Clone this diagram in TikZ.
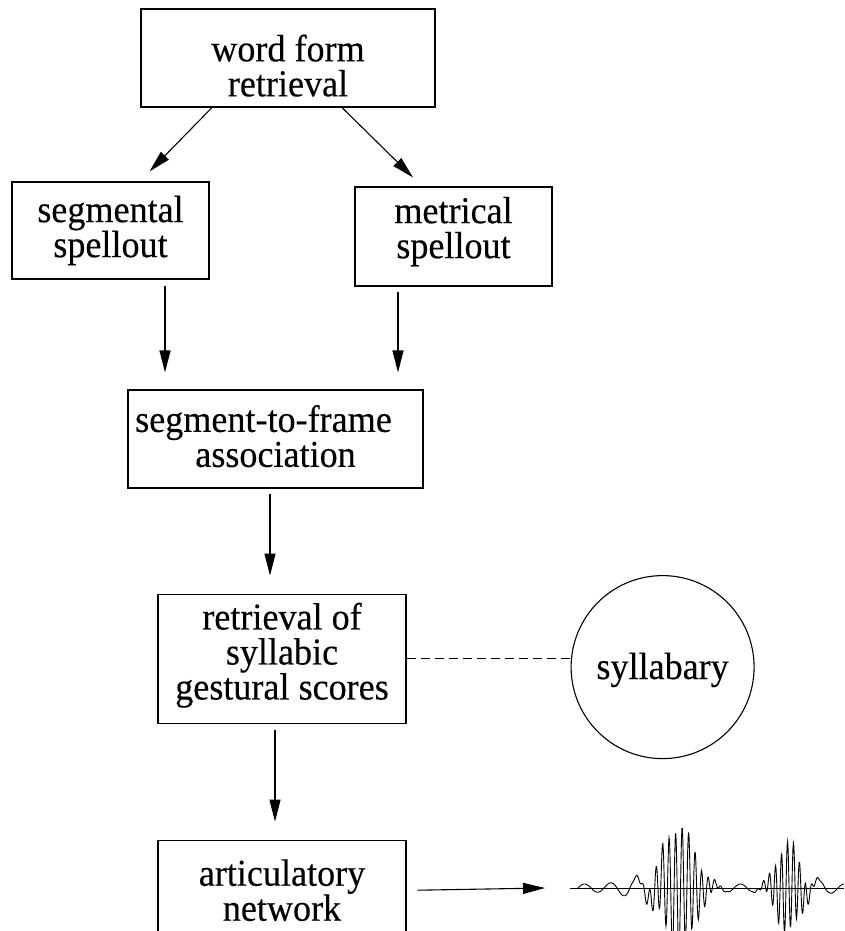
\documentclass[tikz,border=0pt]{standalone}
\usepackage{fontspec}
\setmainfont{Liberation Serif}
\newfontfamily\boxfont[FakeStretch=0.95, FakeBold=0.3]{Liberation Serif}
\usetikzlibrary{arrows.meta, positioning}

\begin{document}
\begin{tikzpicture}[
    x=1pt, y=-1pt,
    box/.style={
      rectangle,
      draw,
      align=center,
      inner sep=0pt,
      font=\boxfont\fontsize{38}{35}\selectfont
    },
    line width=1.1pt,
    >={Triangle[length=22pt, width=11pt]},
    declare function={
      env(\t,\c,\s)=exp(max(-12,0-((\t-\c)/\s)^2));
      sig(\t)=(4+8*env(\t,645,25)+6*env(\t,812,15))*sin(13.846*(\t-578))
        +62*env(\t,679,22)*sin(55.385*(\t-648))
        +45*env(\t,788,16)*sin(60*(\t-762));
    }
  ]
    \useasboundingbox (0,0) rectangle (844,931);

    % Top rows
    \node[box, minimum width=294pt, minimum height=98pt] (wf) at (288,58) {\rule{0pt}{42pt}word form\\retrieval};
    \node[box, minimum width=197pt, minimum height=97pt] (seg) at (110.5,230.5) {segmental\\spellout};
    \node[box, minimum width=197pt, minimum height=99pt] (met) at (453.5,236.5) {metrical\\spellout\rule[-18pt]{0pt}{18pt}};

    % Middle column
    \node[box, minimum width=295pt, minimum height=98pt] (s2f) at (275.5,439) {segment-to-frame\hspace*{24pt}\\association\rule[-6pt]{0pt}{6pt}};
    \node[box, minimum width=248pt, minimum height=129pt] (ret) [below=105pt of s2f, xshift=6.5pt] {retrieval of\\syllabic\\gestural scores\rule[-15pt]{0pt}{15pt}};
    \node[box, minimum width=248pt, minimum height=100pt] (art) [below=116pt of ret] {articulatory\\network};

    % Right side
    \node[box, circle, minimum size=183pt] (syl) [right=164pt of ret, yshift=-8.5pt] {\rule{0pt}{32pt}syllabary};
    \coordinate (wave) at (570,888);

    % Edges
    \draw[->] ([xshift=-76pt]wf.south) -- ([xshift=39pt, yshift=10pt]seg.north);
    \draw[->] ([xshift=54pt]wf.south) -- ([xshift=-40.5pt, yshift=9pt]met.north);

    \draw[->] ([xshift=54.5pt, yshift=-6pt]seg.south) -- ([xshift=-110.5pt, yshift=17pt]s2f.north);
    \draw[->] ([xshift=-55.5pt, yshift=-5pt]met.south) -- ([xshift=122.5pt, yshift=17pt]s2f.north);

    \draw[->] ([xshift=-5.5pt, yshift=-5pt]s2f.south) -- ([xshift=-12pt, yshift=18pt]ret.north);
    \draw[->] ([xshift=-7pt, yshift=-6pt]ret.south) -- ([xshift=-7pt, yshift=18pt]art.north);

    \draw[dashed, dash pattern=on 9pt off 5pt] (ret.east) -- (ret.east -| syl.west);

    \draw[->] ([xshift=11pt]art.east) -- ([xshift=-25pt]wave);

    % Speech wave
    \draw[line width=0.9pt] (wave) -- (844,888);
    \draw[line width=0.9pt] plot[domain=578:844, samples=600] (\x, {888-sig(\x)});

  \end{tikzpicture}
\end{document}
